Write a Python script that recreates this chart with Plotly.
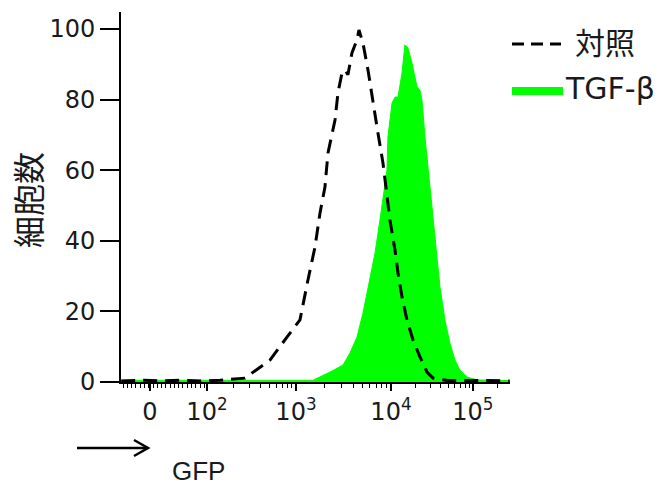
import plotly.graph_objects as go
import numpy as np

# x values are in display decades (biexponential-like axis: 10^3 -> 3, 10^4 -> 4)
ctrl_x = [1.16, 1.4, 1.6, 1.8, 2.0, 2.2, 2.463, 2.547, 2.726, 2.905, 3.042, 3.126, 3.200, 3.253,
          3.305, 3.337, 3.411, 3.442, 3.484, 3.516, 3.547, 3.589, 3.642, 3.663, 3.705,
          3.758, 3.811, 3.863, 3.916, 3.958, 3.989, 4.042, 4.074, 4.116, 4.168, 4.232,
          4.305, 4.379, 4.442, 4.6, 4.8, 5.0, 5.25]
ctrl_y = [0.3, 0.5, 0.3, 0.5, 0.3, 0.5, 1.1, 2.8, 6.2, 12.7, 17.6, 28.9, 38.2, 47.9,
          55.2, 64.9, 74.2, 81.9, 87.5, 88.4, 87.0, 93.2, 96.9, 99.7, 96.0,
          88.4, 79.0, 70.5, 62.0, 53.5, 45.9, 37.4, 30.9, 24.1, 17.6, 11.9,
          7.1, 2.8, 1.1, 0.4, 0.5, 0.4, 0.3]

tgf_x = [1.16, 1.6, 2.0, 2.5, 3.0, 3.179, 3.358, 3.495, 3.568, 3.642, 3.705, 3.779, 3.832,
         3.884, 3.916, 3.958, 3.968, 4.011, 4.042, 4.074, 4.116, 4.147, 4.179, 4.221,
         4.274, 4.305, 4.326, 4.358, 4.411, 4.463, 4.516, 4.568, 4.621, 4.674, 4.726,
         4.800, 4.905, 5.05, 5.25]
tgf_y = [0.5, 0.5, 0.5, 0.5, 0.5, 0.5, 2.8, 4.8, 8.2, 12.7, 19.5, 28.9, 36.5,
         45.9, 52.4, 60.0, 69.4, 79.0, 80.7, 80.7, 87.5, 95.5, 94.6, 90.4,
         83.6, 82.7, 79.9, 69.4, 55.2, 41.0, 26.9, 17.6, 11.0, 6.2, 3.4,
         1.4, 0.6, 0.5, 0.4]

tick_pos = [1.463, 2.063, 3.0, 4.0, 4.863]
tick_text = ["0", "10<sup>2</sup>", "10<sup>3</sup>", "10<sup>4</sup>", "10<sup>5</sup>"]
y_ticks = [0, 20, 40, 60, 80, 100]

# minor tick marks (axis decoration)
minor = list(np.arange(1.18, 2.06, 0.045))
decs = [(2.063, 3.0), (3.0, 4.0), (4.0, 4.863), (4.863, 5.726)]
for a, b in decs:
    for k in range(2, 10):
        v = a + (b - a) * np.log10(k)
        if v < 5.25:
            minor.append(float(v))

GREEN = "#00FF00"
fig = go.Figure()
fig.add_trace(go.Scatter(x=tgf_x, y=tgf_y, mode="lines", fill="tozeroy",
                         fillcolor=GREEN, line=dict(color=GREEN, width=1),
                         showlegend=False, hoverinfo="skip"))
fig.add_trace(go.Scatter(x=ctrl_x, y=ctrl_y, mode="lines",
                         line=dict(color="black", width=3, dash="14px,8px"),
                         showlegend=False, hoverinfo="skip"))

L, R, T, B = 121, 162, 12, 107
W, H = 672, 489
pw, ph = W - L - R, H - T - B
def px(x):
    return (x - L) / pw
def py(y):
    return (H - B - y) / ph

fnt = "DejaVu Sans, Noto Sans CJK JP"
fig.update_layout(
    width=W, height=H, margin=dict(l=L, r=R, t=T, b=B),
    paper_bgcolor="white", plot_bgcolor="white",
    font=dict(family=fnt, size=24, color="#1a1a1a"),
    xaxis=dict(range=[1.158, 5.253], tickmode="array", tickvals=tick_pos, ticktext=tick_text,
               showline=True, linecolor="black", linewidth=2, ticks="outside", ticklen=7,
               tickwidth=1.5, tickcolor="black", showgrid=False, zeroline=False,
               tickfont=dict(size=24),
               minor=dict(tickmode="array", tickvals=minor, ticks="outside", ticklen=4,
                          tickwidth=1.2, tickcolor="black", showgrid=False)),
    yaxis=dict(range=[0, 104.8], tickmode="array", tickvals=y_ticks,
               showline=True, linecolor="black", linewidth=2, ticks="outside", ticklen=19,
               tickwidth=2, tickcolor="black", showgrid=False, zeroline=False,
               tickfont=dict(size=24)),
    showlegend=False,
)

# y title
fig.add_annotation(x=px(30), y=py(200), xref="paper", yref="paper", text="細胞数",
                   textangle=-90, showarrow=False, font=dict(size=32, family=fnt),
                   xanchor="center", yanchor="middle")
# GFP label
fig.add_annotation(x=px(198), y=py(471), xref="paper", yref="paper", text="GFP",
                   showarrow=False, font=dict(size=26, family="Liberation Sans"),
                   xanchor="center", yanchor="middle")
# arrow
fig.add_shape(type="line", xref="paper", yref="paper", x0=px(77), x1=px(148), y0=py(448), y1=py(448),
              line=dict(color="black", width=2.5))
fig.add_shape(type="path", xref="paper", yref="paper",
              path=f"M {px(134)},{py(440)} L {px(148)},{py(448)} L {px(134)},{py(456)}",
              line=dict(color="black", width=2.5))

# legend (manual)
fig.add_shape(type="line", xref="paper", yref="paper", x0=px(512), x1=px(561), y0=py(44), y1=py(44),
              line=dict(color="black", width=3, dash="12px,7px"))
fig.add_annotation(x=px(573), y=py(43), xref="paper", yref="paper", text="対照",
                   showarrow=False, font=dict(size=30, family=fnt), xanchor="left", yanchor="middle")
fig.add_shape(type="line", xref="paper", yref="paper", x0=px(512), x1=px(563), y0=py(91), y1=py(91),
              line=dict(color=GREEN, width=8))
fig.add_annotation(x=px(563), y=py(88), xref="paper", yref="paper", text="TGF-β",
                   showarrow=False, font=dict(size=30, family=fnt), xanchor="left", yanchor="middle")

fig.write_html("out.html")
